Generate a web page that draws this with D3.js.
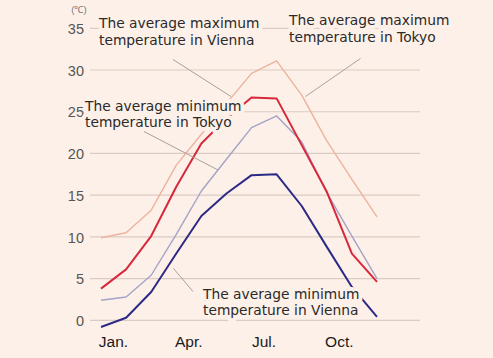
<!DOCTYPE html>
<html><head><meta charset="utf-8">
<script src="https://cdn.jsdelivr.net/npm/d3@7"></script>
<style>
html,body{margin:0;padding:0;background:#fdf0e8;}
svg{display:block;}
</style></head>
<body>
<script>
const months = ["Jan.","Feb.","Mar.","Apr.","May","Jun.","Jul.","Aug.","Sep.","Oct.","Nov.","Dec."];
const shownMonths = ["Jan.","Apr.","Jul.","Oct."];
const tokyoMax  = [9.9, 10.5, 13.2, 18.6, 22.3, 26.0, 29.6, 31.1, 27.0, 21.5, 16.9, 12.4];
const viennaMax = [3.8, 6.1, 10.1, 16.0, 21.2, 24.2, 26.7, 26.6, 21.0, 15.4, 8.0, 4.6];
const tokyoMin  = [2.4, 2.8, 5.4, 10.3, 15.5, 19.3, 23.1, 24.5, 21.4, 15.3, 10.1, 5.0];
const viennaMin = [-0.8, 0.3, 3.4, 8.0, 12.5, 15.2, 17.4, 17.5, 13.7, 8.8, 4.0, 0.4];
const yTicks = [0, 5, 10, 15, 20, 25, 30, 35];

const W = 493, H = 358;
const svg = d3.select("body").append("svg").attr("width", W).attr("height", H);
svg.append("rect").attr("width", W).attr("height", H).attr("fill", "#fdf0e8");

const x = d3.scalePoint().domain(months).range([101, 377]);
const y = d3.scaleLinear().domain([0, 35]).range([320.3, 28.3]);

// grid
svg.append("g").selectAll("line").data(yTicks).join("line")
  .attr("x1", 90).attr("x2", 420)
  .attr("y1", d => y(d)).attr("y2", d => y(d))
  .attr("stroke", "#dccbc2").attr("stroke-width", 1.2);

// y axis labels
const yAxis = d3.axisLeft(y).tickValues(yTicks).tickSize(0).tickPadding(0);
const gy = svg.append("g").attr("transform", "translate(84,0)").call(yAxis);
gy.select(".domain").remove();
gy.selectAll("text").attr("font-family", "Liberation Sans, Arial, sans-serif")
  .attr("font-size", 14.5).attr("fill", "#555").attr("dy", "0.36em");

svg.append("text").attr("x", 79).attr("y", 13).attr("text-anchor", "middle")
  .attr("font-family", "Liberation Sans, Arial, sans-serif").attr("font-size", 9.5)
  .attr("fill", "#777").text("(℃)");

// x axis labels
const xAxis = d3.axisBottom(x).tickValues(shownMonths).tickSize(0).tickPadding(0);
const gx = svg.append("g").attr("transform", "translate(12,336)").call(xAxis);
gx.select(".domain").remove();
gx.selectAll("text").attr("font-family", "Liberation Sans, Arial, sans-serif")
  .attr("font-size", 15.5).attr("fill", "#1a1a1a").attr("dy", "0.71em");

// lines
const line = d3.line().x((d, i) => x(months[i])).y(d => y(d));
const series = [
  {v: tokyoMax,  c: "#edb39e", w: 1.4},
  {v: tokyoMin,  c: "#a4a3c6", w: 1.4},
  {v: viennaMax, c: "#d8283b", w: 2},
  {v: viennaMin, c: "#2c2a86", w: 2}
];
svg.append("g").selectAll("path").data(series).join("path")
  .attr("d", d => line(d.v)).attr("fill", "none")
  .attr("stroke", d => d.c).attr("stroke-width", d => d.w)
  .attr("stroke-linejoin", "round");

// leader lines
const leaders = [
  [173, 59.5, 231, 96.5],
  [360.5, 58.5, 305.5, 96.5],
  [144, 131.5, 218, 170],
  [173.5, 268.5, 193, 291.5]
];
svg.append("g").selectAll("line").data(leaders).join("line")
  .attr("x1", d => d[0]).attr("y1", d => d[1]).attr("x2", d => d[2]).attr("y2", d => d[3])
  .attr("stroke", "#a8a09c").attr("stroke-width", 1);

// labels
const labels = [
  {x: 99, y: 28, t: ["The average maximum", "temperature in Vienna"]},
  {x: 289, y: 25, t: ["The average maximum", "temperature in Tokyo"]},
  {x: 85, y: 110.5, t: ["The average minimum", "temperature in Tokyo"]},
  {x: 203, y: 298.5, t: ["The average minimum", "temperature in Vienna"]}
];
labels.forEach(l => {
  const t = svg.append("text").attr("font-family", "DejaVu Sans, Verdana, sans-serif")
    .attr("font-size", 13.8).attr("fill", "#2a2a2a")
    .attr("stroke", "#fdf0e8").attr("stroke-width", 8).attr("paint-order", "stroke")
    .attr("stroke-linejoin", "round");
  l.t.forEach((s, i) => t.append("tspan").attr("x", l.x).attr("y", l.y + i * 16.5).text(s));
});
</script>
</body></html>
